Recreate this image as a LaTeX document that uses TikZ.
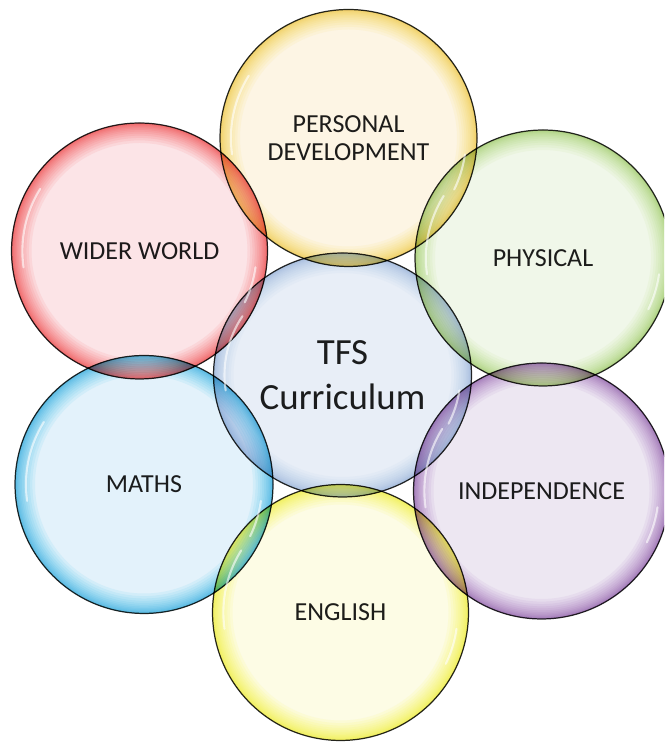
\documentclass[tikz,border=0pt]{standalone}
\usepackage{fontspec}
\setmainfont{Carlito}
\usetikzlibrary{shapes.geometric}
% #1 name, #2-#4 rim RGB, #5-#7 inner RGB
\newcommand\mkrim[7]{%
  \pgfmathsetmacro\rimA{min(1,pow((0.78*#2+0.22*#5)/#5,1/14))}%
  \pgfmathsetmacro\rimB{min(1,pow((0.78*#3+0.22*#6)/#6,1/14))}%
  \pgfmathsetmacro\rimC{min(1,pow((0.78*#4+0.22*#7)/#7,1/14))}%
  \definecolor{#1f}{rgb}{\rimA,\rimB,\rimC}%
  \definecolor{#1L}{RGB}{#5,#6,#7}}
\mkrim{pd}{240}{192}{64}{253}{245}{228}
\mkrim{ww}{229}{58}{64}{252}{228}{231}
\mkrim{ph}{152}{200}{90}{240}{247}{233}
\mkrim{ma}{42}{165}{220}{227}{242}{251}
\mkrim{ind}{133}{85}{172}{237}{231}{242}
\mkrim{en}{234}{230}{48}{253}{252}{229}
\mkrim{tfs}{142}{180}{222}{232}{238}{247}
\definecolor{txt}{HTML}{1E1E1E}
% rings: node, colour prefix, x radius, y radius (picture units)
\newcommand\rims[4]{%
  \foreach \k in {1,...,14} {
    \fill[#2f, even odd rule] (#1.center) ellipse[x radius=#3, y radius=#4]
      (#1.center) ellipse[x radius={#3-20*(\k/14)^1.9}, y radius={#4-20*(\k/14)^1.9}];
  }}
\begin{document}
\begin{tikzpicture}[x=0.02cm,y=0.02cm,
  bub/.style={circle, draw=black!80, line width=0.7pt, inner sep=0pt, text=txt, align=center,
    font=\fontsize{14.8pt}{15.9pt}\selectfont},
  hl/.style={draw=white, line width=1.2pt, line cap=round, opacity=0.6}]
\useasboundingbox (0,0) rectangle (664,742);
\clip (0,0) rectangle (664,742);
\begin{scope}[blend mode=multiply]
\node[bub, fill=pdL, minimum size=5.14cm] (pd) at (348.5,604) {PERSONAL\\DEVELOPMENT};
\node[bub, fill=wwL, minimum size=5.12cm] (ww) at (139.5,491) {WIDER WORLD};
\node[bub, fill=phL, minimum size=5.12cm] (ph) at (543,484) {PHYSICAL};
\node[bub, fill=maL, minimum size=5.16cm] (ma) at (144,257.5) {MATHS};
\node[bub, fill=indL, minimum size=5.12cm] (ind) at (541.5,251) {INDEPENDENCE};
\node[bub, fill=enL, minimum size=5.12cm] (en) at (340.5,129.5) {ENGLISH};
\node[bub, ellipse, fill=tfsL, minimum width=5.16cm, minimum height=4.88cm,
  font=\fontsize{21pt}{25.5pt}\selectfont] (tfs) at (342.5,367) {TFS\\Curriculum};
\rims{pd}{pd}{128.5}{128.5}
\rims{ww}{ww}{128}{128}
\rims{ph}{ph}{128}{128}
\rims{ma}{ma}{129}{129}
\rims{ind}{ind}{128}{128}
\rims{en}{en}{128}{128}
\rims{tfs}{tfs}{129}{122}
\end{scope}
\foreach \n/\r in {pd/128.5, ww/128, ph/128, ma/129, ind/128, en/128} {
  \draw[hl] (\n.center) ++(148:0.915*\r) arc[start angle=148, end angle=188, radius=0.915*\r];
  \draw[hl] (\n.center) ++(-26:0.915*\r) arc[start angle=-26, end angle=-8, radius=0.915*\r];
}
\draw[hl] (tfs.center) ++(148:118 and 111) arc[start angle=148, end angle=188, x radius=118, y radius=111];
\draw[hl] (tfs.center) ++(-26:118 and 111) arc[start angle=-26, end angle=-8, x radius=118, y radius=111];
\end{tikzpicture}
\end{document}
